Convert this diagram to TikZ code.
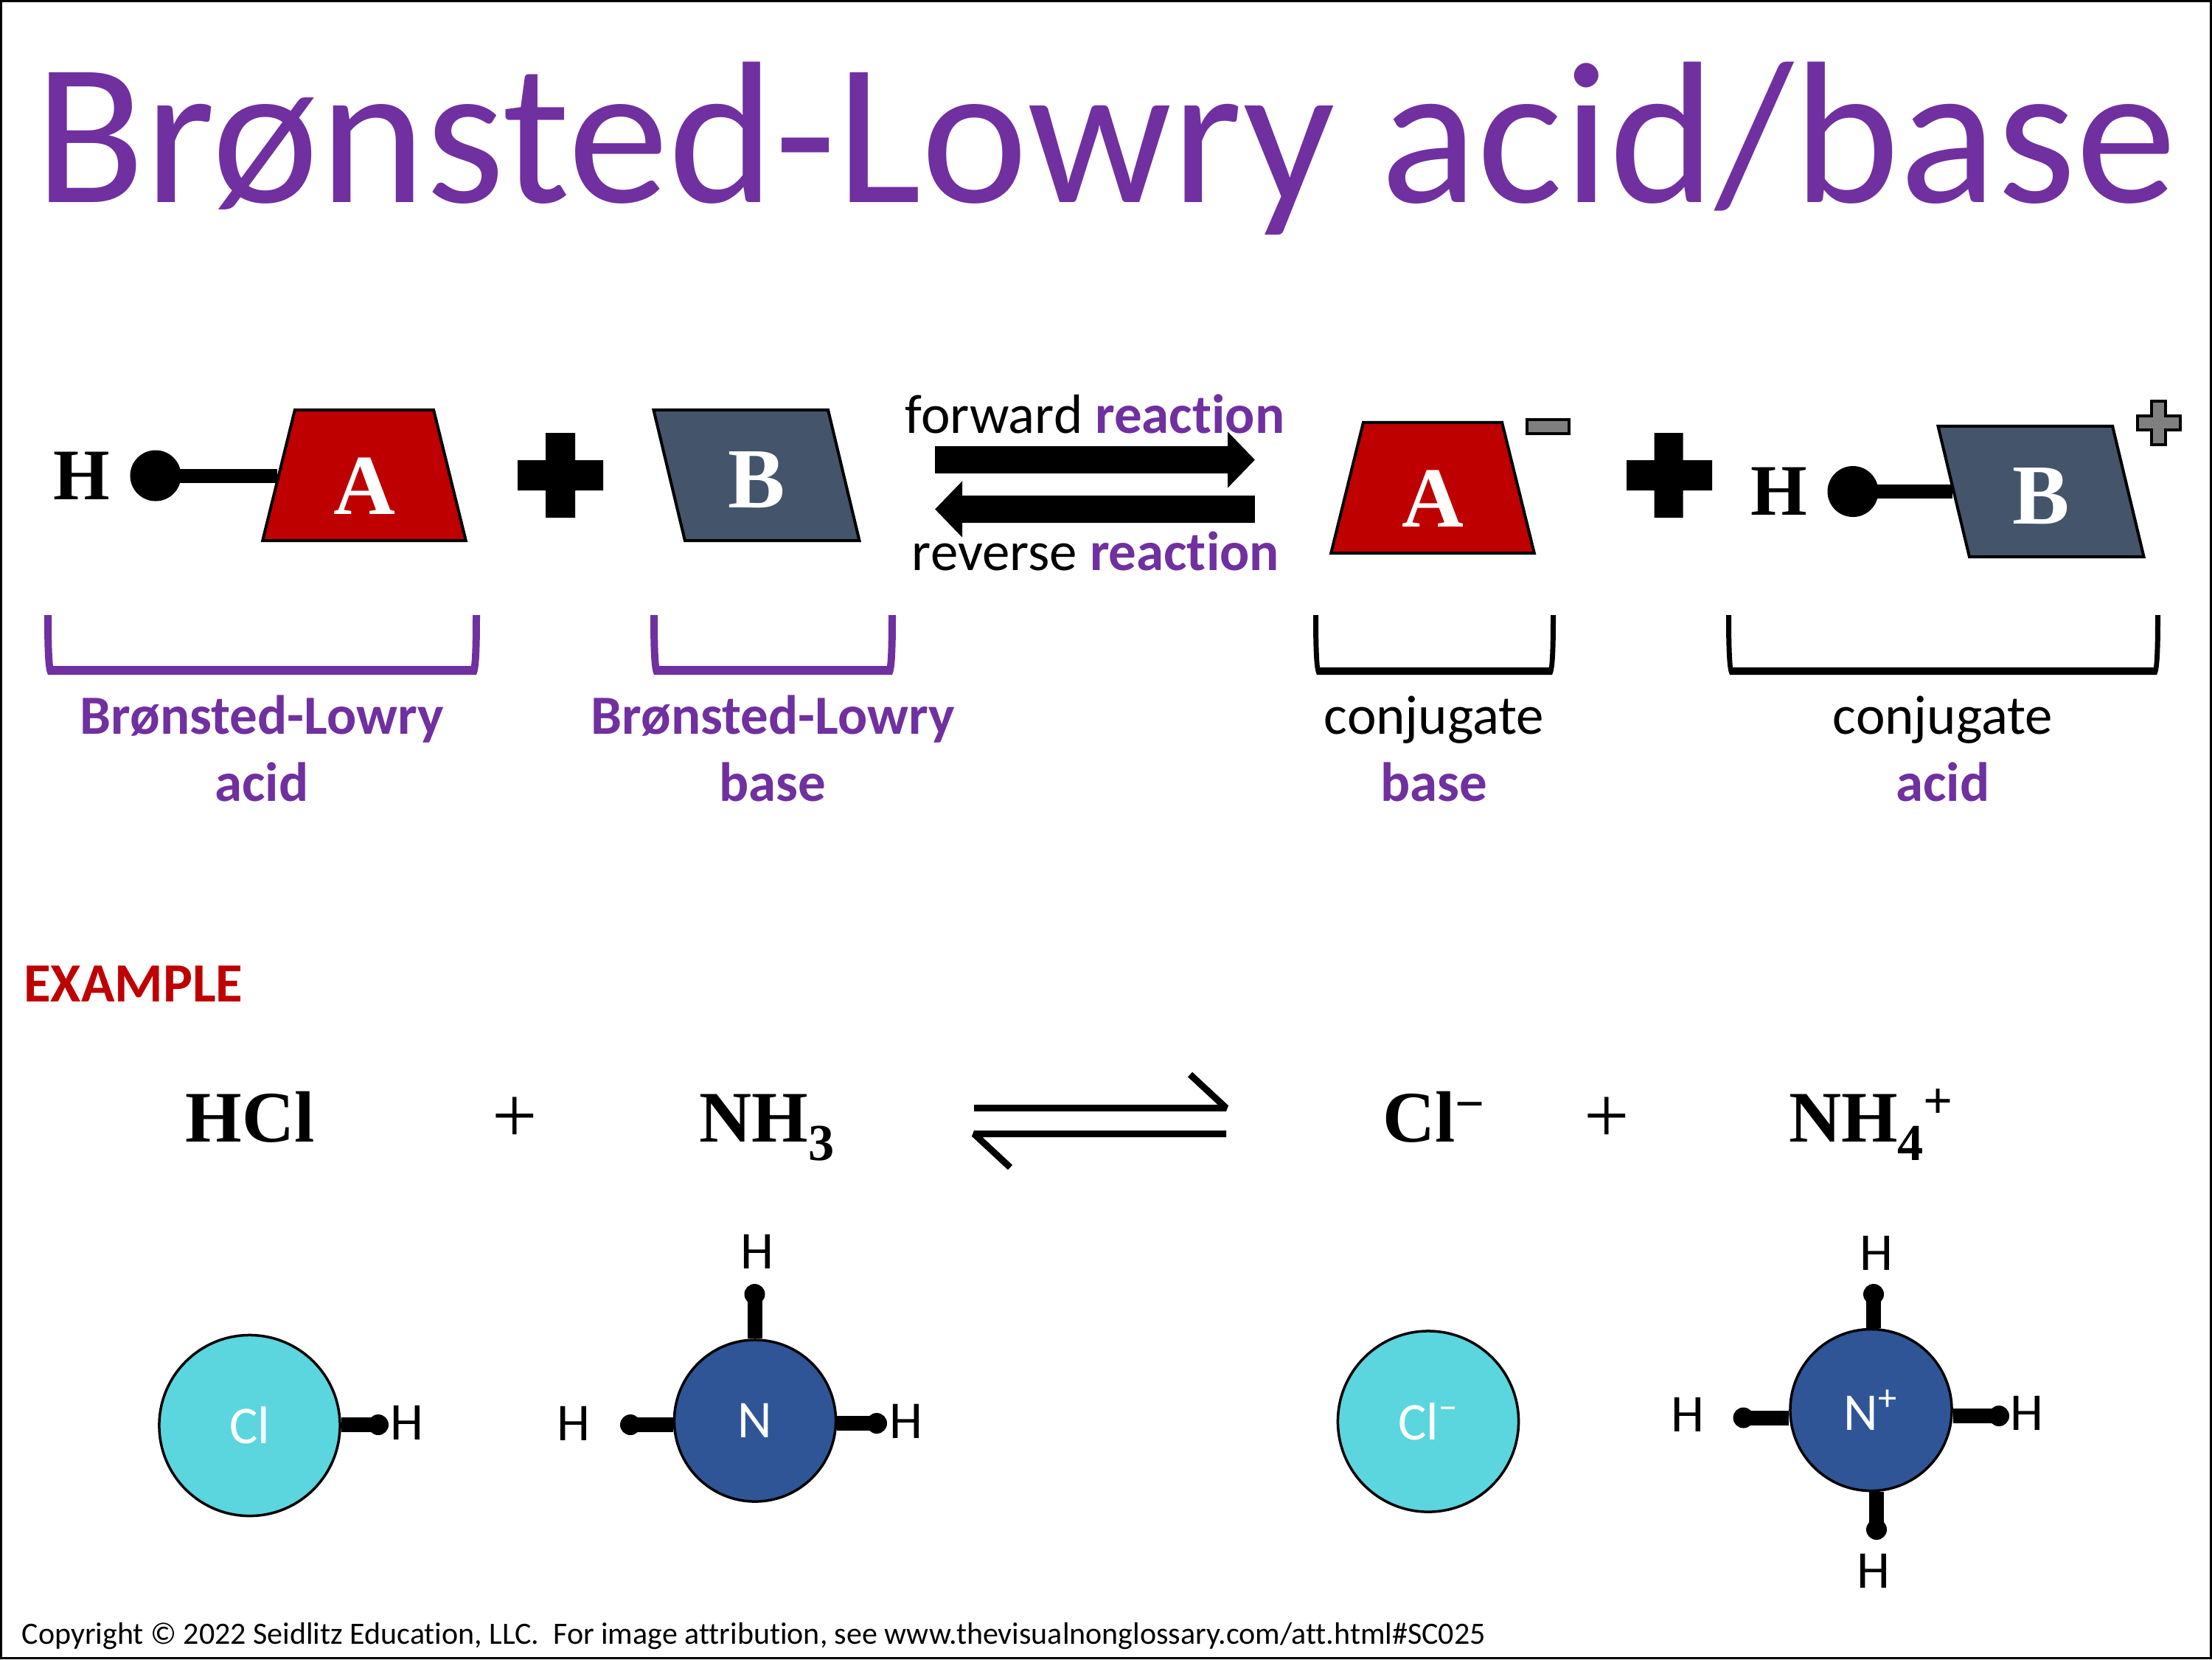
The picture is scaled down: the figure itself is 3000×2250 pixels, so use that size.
\documentclass[tikz,border=0pt]{standalone}
\usepackage{fontspec}
\usepackage{xcolor}
\setmainfont[Ligatures=NoCommon]{Carlito}
\newfontfamily\serifface{Liberation Serif}
\usetikzlibrary{shapes.geometric, arrows.meta, positioning}
\definecolor{titlepurple}{HTML}{7030A0}
\definecolor{acidred}{HTML}{BE0000}
\definecolor{baseslate}{HTML}{44546A}
\definecolor{clcyan}{HTML}{5BD5DE}
\definecolor{nblue}{HTML}{2F5597}
\definecolor{chargegray}{HTML}{7F7F7F}
% bracket: left x, right x, colour, side width, bottom top y
\newcommand{\bracketshape}[5]{
  \fill[#3] (#1,834) .. controls (#1,880) and (#1+1,908) .. (#1+5,915) -- (#2-5,915)
    .. controls (#2-1,908) and (#2,880) .. (#2,834) -- (#2-#4,834)
    .. controls (#2-#4,880) and (#2-#4-1,895) .. (#2-#4-2,#5) -- (#1+#4+2,#5)
    .. controls (#1+#4+1,895) and (#1+#4,880) .. (#1+#4,834) -- cycle;
}
% small raised or lowered figure in a formula
\newcommand{\formshift}[2]{\raisebox{#1}{\fontsize{20}{20}\selectfont #2}}
\begin{document}
\begin{tikzpicture}[
   x=0.01cm, y=-0.01cm,
   titletext/.style = {anchor=base, inner sep=0, text=titlepurple, font=\fontsize{78}{78}\selectfont},
   acidbox/.style = {trapezium, draw, line width=0.04cm, fill=acidred, inner sep=0, trapezium stretches=true,
     minimum width=2.76cm, minimum height=1.77cm, trapezium left angle=79.5, trapezium right angle=79.5,
     text=white, text height=1.05cm, text depth=0pt, font=\serifface\bfseries\fontsize{33}{33}\selectfont},
   basebox/.style = {trapezium, draw, line width=0.04cm, fill=baseslate, inner sep=0, trapezium stretches=true,
     minimum width=2.79cm, minimum height=1.77cm, trapezium left angle=101, trapezium right angle=79,
     text=white, text height=0.87cm, text depth=0pt, font=\serifface\bfseries\fontsize{33}{33}\selectfont},
   bighyd/.style = {inner sep=0, font=\serifface\bfseries\fontsize{28}{28}\selectfont},
   bigball/.style = {circle, fill=black, inner sep=0, minimum size=0.69cm},
   bigbond/.style = {line width=0.19cm},
   bigplus/.style = {fill=black},
   flowarrow/.style = {line width=0.37cm, -{Triangle[length=0.37cm, width=0.74cm]}},
   reactlabel/.style = {anchor=base, inner sep=0, font=\fontsize{21.33}{21.33}\selectfont},
   termlabel/.style = {align=center, inner sep=0, font=\fontsize{21.33}{25.9}\selectfont},
   chargebox/.style = {draw, line width=0.04cm, fill=chargegray},
   formula/.style = {anchor=base, inner sep=0, font=\serifface\bfseries\fontsize{28}{28}\selectfont},
   formplus/.style = {anchor=base, inner sep=0, font=\serifface\fontsize{31}{31}\selectfont},
   eqline/.style = {line width=0.09cm, line join=bevel},
   atomcl/.style = {circle, draw, line width=0.035cm, fill=clcyan, inner sep=0, minimum size=2.45cm, text=white, font=\fontsize{20.5}{20.5}\selectfont},
   atomn/.style = {circle, draw, line width=0.035cm, fill=nblue, inner sep=0, minimum size=2.19cm, text=white, font=\fontsize{20.5}{20.5}\selectfont},
   hball/.style = {circle, fill=black, inner sep=0, minimum size=0.28cm},
   hbond/.style = {line width=0.2cm},
   hatom/.style = {inner sep=0, font=\fontsize{20.5}{20.5}\selectfont}
   ]
  \useasboundingbox (0,0) rectangle (3000,2250);
  \draw[line width=0.03cm] (1.5,1.5) rectangle (2998.5,2248.5);

  % Title
  \node[titletext] (title) at (1500,274) {Brønsted-Lowry acid/base};

  % Acid and base
  \node[acidbox] (acidA) at (494,644.5) {A};
  \node[bigball] (ballA) at (211,645) {};
  \node[bighyd, left=0.26cm of ballA] (hydA) {H};
  \draw[bigbond] (ballA.center) -- (ballA -| acidA.west);
  \fill[bigplus] (702,624) rectangle (818,665) (740,587) rectangle (780,702);
  \node[basebox] (baseB) at (1026,644.5) {B};

  % Reaction arrows
  \node[reactlabel] (forward) at (1485,587) {forward \textcolor{titlepurple}{\textbf{reaction}}};
  \coordinate (fwdstart) at (1268,623.5);
  \coordinate (fwdend) at (1702,623.5);
  \draw[flowarrow] (fwdstart) -- (fwdend);
  \coordinate (revstart) at (1702,690.5);
  \coordinate (revend) at (1268,690.5);
  \draw[flowarrow] (revstart) -- (revend);
  \node[reactlabel] (reverse) at (1486,773.5) {reverse \textcolor{titlepurple}{\textbf{reaction}}};

  % Conjugate base and acid
  \node[acidbox] (acidC) at (1943,661.5) {A};
  \draw[chargebox] (2071,569) rectangle (2128,587.5);
  \fill[bigplus] (2206,624) rectangle (2322,665) (2243.5,587) rectangle (2282.5,702);
  \node[basebox] (baseD) at (2768,666.5) {B};
  \node[bigball] (ballD) at (2513,666.5) {};
  \node[bighyd, left=0.26cm of ballD] (hydD) {H};
  \draw[bigbond] (ballD.center) -- (ballD -| baseD.west);
  \draw[chargebox] (2918,544) -- (2937,544) -- (2937,564) -- (2957,564) -- (2957,583) -- (2937,583)
    -- (2937,602.5) -- (2918,602.5) -- (2918,583) -- (2899,583) -- (2899,564) -- (2918,564) -- cycle;

  % Brackets
  \bracketshape{60}{651}{titlepurple}{10}{903}
  \bracketshape{882}{1215}{titlepurple}{10}{903}
  \bracketshape{1781}{2110}{black}{7}{905}
  \bracketshape{2341}{2930}{black}{7}{905}

  % Bracket labels
  \node[termlabel, text=titlepurple] (acidlabel) at (355,1015) {\textbf{Brønsted-Lowry}\\\textbf{acid}};
  \node[termlabel, text=titlepurple] (baselabel) at (1048,1015) {\textbf{Brønsted-Lowry}\\\textbf{base}};
  \node[termlabel] (conjbase) at (1945,1015) {conjugate\\\textcolor{titlepurple}{\textbf{base}}};
  \node[termlabel] (conjacid) at (2635,1015) {conjugate\\\textcolor{titlepurple}{\textbf{acid}}};

  % Example
  \node[anchor=base west, inner sep=0, text=acidred, font=\bfseries\fontsize{21.33}{21.33}\selectfont] (example) at (31.5,1358) {EXAMPLE};

  % Equation
  \node[formula] (hcl) at (339.5,1548) {HCl};
  \node[formplus] (plusleft) at (698,1549) {+};
  \node[formula] (nh3) at (1040,1548) {NH\formshift{-0.25cm}{3}};
  \coordinate (eqtopl) at (1321,1502.5);
  \coordinate (eqtopr) at (1663,1502.5);
  \coordinate (eqtopb) at (1614,1457);
  \coordinate (eqlowl) at (1321,1537.5);
  \coordinate (eqlowr) at (1663,1537.5);
  \coordinate (eqlowb) at (1370,1583);
  \draw[eqline] (eqtopl) -- (eqtopr) -- (eqtopb);
  \draw[eqline] (eqlowr) -- (eqlowl) -- (eqlowb);
  \node[formula] (clminus) at (1944.5,1548) {Cl\formshift{0.28cm}{−}};
  \node[formplus] (plusright) at (2179,1549) {+};
  \node[formula] (nh4) at (2537.5,1548) {NH\formshift{-0.25cm}{4}\formshift{0.32cm}{+}};

  % Reactant atoms
  \node[atomcl] (cl) at (338.5,1933) {Cl};
  \node[hball] (clball) at (513,1932) {};
  \node[hatom] (clh) at (552,1929.5) {H};
  \draw[hbond] (clball.center) -- (clball -| cl.east);

  \node[atomn] (nit) at (1024,1926.5) {N};
  \node[hball] (nitballt) at (1023.5,1755) {};
  \node[hatom] (nithl) at (778,1930) {H};
  \node[hball] (nitballl) at (855,1932) {};
  \node[hball] (nitballr) at (1189,1930) {};
  \node[hatom] (nithr) at (1229,1927) {H};
  \node[hatom] (nitht) at (1027,1697.5) {H};
  \draw[hbond] (nitballt.center) -- (nitballt |- nit.north);
  \draw[hbond] (nitballl.center) -- (nitballl -| nit.west);
  \draw[hbond] (nitballr.center) -- (nitballr -| nit.east);

  % Product atoms
  \node[atomcl] (clion) at (1937,1927.5) {Cl\textsuperscript{−}};

  \node[atomn] (nion) at (2537.5,1912) {N\textsuperscript{+}};
  \node[hball] (nionballt) at (2541,1755) {};
  \node[hball] (nionballb) at (2545,2074) {};
  \node[hball] (nionballl) at (2364.5,1922.5) {};
  \node[hball] (nionballr) at (2711,1920) {};
  \node[hatom] (nionht) at (2545,1699) {H};
  \node[hatom] (nionhb) at (2541,2130.5) {H};
  \node[hatom] (nionhl) at (2289,1918.5) {H};
  \node[hatom] (nionhr) at (2749,1916.5) {H};
  \draw[hbond] (nionballt.center) -- (nionballt |- nion.north);
  \draw[hbond] (nionballb.center) -- (nionballb |- nion.south);
  \draw[hbond] (nionballl.center) -- (nionballl -| nion.west);
  \draw[hbond] (nionballr.center) -- (nionballr -| nion.east);

  % Copyright
  \node[anchor=base west, inner sep=0, font=\fontsize{11.94}{11.94}\selectfont] (copyright) at (29,2229)
   {Copyright © 2022 Seidlitz Education, LLC.\ \ For image attribution, see www.thevisualnonglossary.com/att.html\#SC025};
\end{tikzpicture}
\end{document}
